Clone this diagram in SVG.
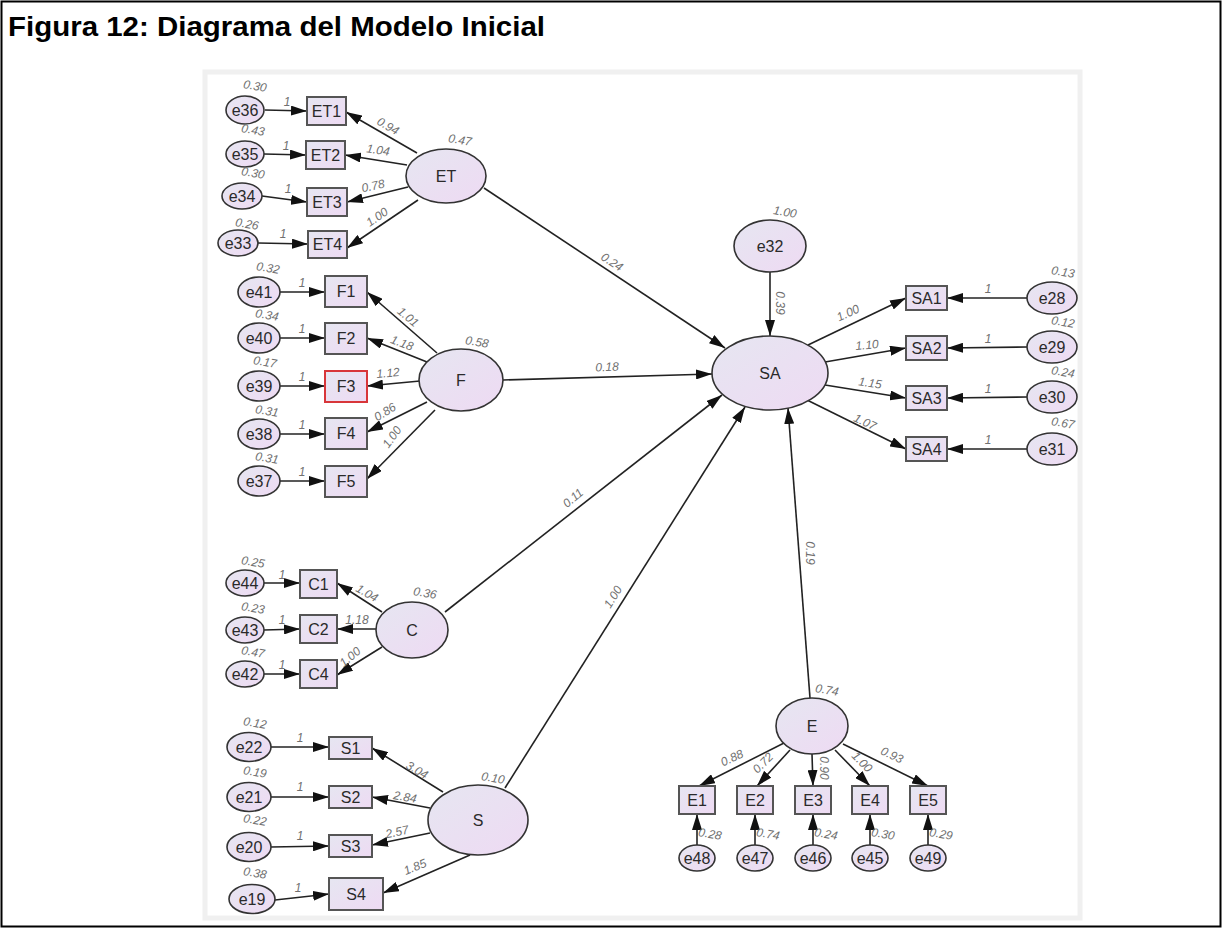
<svg xmlns="http://www.w3.org/2000/svg" width="1222" height="928" viewBox="0 0 1222 928">
<defs>
<linearGradient id="g" x1="0" y1="0" x2="1" y2="1">
<stop offset="0" stop-color="#e6e6f1"/>
<stop offset="1" stop-color="#eedaf3"/>
</linearGradient>
<marker id="ah" viewBox="0 0 16 10" refX="16" refY="5" markerWidth="16" markerHeight="10" markerUnits="userSpaceOnUse" orient="auto">
<path d="M0,0 L16,5 L0,10 z" fill="#111"/>
</marker>
<style>
.el{fill:url(#g);stroke:#333;stroke-width:1.6}
.bx{fill:url(#g);stroke:#555;stroke-width:2}
.red{stroke:#d8363a}
.t{font-family:"Liberation Sans",Arial,sans-serif;font-size:16px;fill:#2a2a2a;text-anchor:middle;dominant-baseline:central}
.n{font-family:"Liberation Sans",Arial,sans-serif;font-size:12px;fill:#707070;font-style:italic;text-anchor:middle;dominant-baseline:central}
.c line{stroke:#222;stroke-width:1.6;marker-end:url(#ah)}
</style>
</defs>
<rect x="0" y="0" width="1222" height="928" fill="#fff"/>
<rect x="1.5" y="1.5" width="1219" height="925" fill="none" stroke="#000" stroke-width="2"/>
<text x="8" y="36" font-family="'Liberation Sans',Arial,sans-serif" font-weight="bold" font-size="27" fill="#000" textLength="537" lengthAdjust="spacingAndGlyphs">Figura 12: Diagrama del Modelo Inicial</text>
<rect x="205" y="72" width="875" height="846" fill="#fff" stroke="#f0f0f0" stroke-width="5"/>

<g id="connectors" class="c">
<line x1="265" y1="110" x2="307" y2="111"/>
<line x1="264" y1="154" x2="306" y2="155"/>
<line x1="262" y1="196" x2="307" y2="202"/>
<line x1="258" y1="243" x2="308" y2="244"/>
<line x1="417" y1="153" x2="346" y2="112"/>
<line x1="407" y1="165" x2="345" y2="155"/>
<line x1="408" y1="187" x2="347" y2="202"/>
<line x1="418" y1="200" x2="347" y2="248"/>
<line x1="280" y1="292" x2="325" y2="292"/>
<line x1="280" y1="338" x2="325" y2="338"/>
<line x1="280" y1="386" x2="325" y2="386"/>
<line x1="280" y1="434" x2="325" y2="434"/>
<line x1="280" y1="481" x2="325" y2="481"/>
<line x1="437" y1="353" x2="367" y2="292"/>
<line x1="427" y1="362" x2="367" y2="338"/>
<line x1="420" y1="381" x2="367" y2="386"/>
<line x1="427" y1="402" x2="367" y2="432"/>
<line x1="435" y1="410" x2="367" y2="479"/>
<line x1="264" y1="583" x2="300" y2="583"/>
<line x1="264" y1="630" x2="300" y2="629"/>
<line x1="264" y1="674" x2="300" y2="674"/>
<line x1="382" y1="612" x2="337" y2="583"/>
<line x1="376" y1="629" x2="337" y2="629"/>
<line x1="382" y1="647" x2="337" y2="675"/>
<line x1="271" y1="747" x2="329" y2="747"/>
<line x1="271" y1="797" x2="329" y2="797"/>
<line x1="271" y1="847" x2="329" y2="846"/>
<line x1="275" y1="900" x2="329" y2="894"/>
<line x1="443" y1="792" x2="372" y2="748"/>
<line x1="430" y1="808" x2="372" y2="797"/>
<line x1="430" y1="833" x2="372" y2="845"/>
<line x1="470" y1="855" x2="383" y2="893"/>
<line x1="770" y1="272" x2="770" y2="336"/>
<line x1="1027" y1="298" x2="947" y2="298"/>
<line x1="1027" y1="347" x2="947" y2="348"/>
<line x1="1027" y1="397" x2="947" y2="398"/>
<line x1="1027" y1="449" x2="947" y2="449"/>
<line x1="808" y1="345" x2="906" y2="298"/>
<line x1="825" y1="362" x2="906" y2="348"/>
<line x1="825" y1="385" x2="906" y2="398"/>
<line x1="807" y1="400" x2="906" y2="449"/>
<line x1="697" y1="845" x2="697" y2="814"/>
<line x1="755" y1="845" x2="755" y2="814"/>
<line x1="813" y1="845" x2="813" y2="814"/>
<line x1="870" y1="845" x2="870" y2="814"/>
<line x1="928" y1="845" x2="928" y2="814"/>
<line x1="784" y1="743" x2="699" y2="786"/>
<line x1="790" y1="750" x2="757" y2="786"/>
<line x1="812" y1="754" x2="813" y2="786"/>
<line x1="835" y1="750" x2="870" y2="786"/>
<line x1="843" y1="744" x2="928" y2="786"/>
<line x1="484" y1="188" x2="725" y2="348"/>
<line x1="503" y1="380" x2="712" y2="374"/>
<line x1="445" y1="612" x2="722" y2="395"/>
<line x1="505" y1="788" x2="745" y2="407"/>
<line x1="810" y1="698" x2="788" y2="408"/>
</g>

<g id="connector-labels">
<text class="n" transform="translate(612,262) rotate(33)">0.24</text>
<text class="n" transform="translate(607,367) rotate(-2)">0.18</text>
<text class="n" transform="translate(573,498) rotate(-40)">0.11</text>
<text class="n" transform="translate(613,597) rotate(-58)">1.00</text>
<text class="n" transform="translate(810,553) rotate(90)">0.19</text>
<text class="n" transform="translate(780,303) rotate(90)">0.39</text>
</g>

<g id="e36"><ellipse class="el" cx="245" cy="110" rx="19" ry="14"/><text class="t" x="245" y="110">e36</text><text class="n" transform="translate(255,86) rotate(10)">0.30</text><text class="n" x="287" y="102">1</text></g>
<g id="e35"><ellipse class="el" cx="245" cy="154" rx="19" ry="13"/><text class="t" x="245" y="154">e35</text><text class="n" transform="translate(253,130) rotate(10)">0.43</text><text class="n" x="286" y="146">1</text></g>
<g id="e34"><ellipse class="el" cx="242" cy="196" rx="20" ry="13"/><text class="t" x="242" y="196">e34</text><text class="n" transform="translate(253,173) rotate(10)">0.30</text><text class="n" x="288" y="189">1</text></g>
<g id="e33"><ellipse class="el" cx="238" cy="243" rx="20" ry="13"/><text class="t" x="238" y="243">e33</text><text class="n" transform="translate(247,224) rotate(10)">0.26</text><text class="n" x="283" y="234">1</text></g>
<g id="ET1"><rect class="bx" x="307" y="97" width="39" height="28"/><text class="t" x="326.5" y="111">ET1</text><text class="n" transform="translate(388,126) rotate(30)">0.94</text></g>
<g id="ET2"><rect class="bx" x="306" y="141" width="39" height="28"/><text class="t" x="325.5" y="155">ET2</text><text class="n" transform="translate(378,150) rotate(8)">1.04</text></g>
<g id="ET3"><rect class="bx" x="307" y="188" width="40" height="28"/><text class="t" x="327" y="202">ET3</text><text class="n" transform="translate(373,186) rotate(-12)">0.78</text></g>
<g id="ET4"><rect class="bx" x="308" y="231" width="39" height="27"/><text class="t" x="327.5" y="244.5">ET4</text><text class="n" transform="translate(377,217) rotate(-35)">1.00</text></g>
<g id="ET"><ellipse class="el" cx="446" cy="176" rx="40" ry="27"/><text class="t" x="446" y="176">ET</text><text class="n" transform="translate(460,140) rotate(10)">0.47</text></g>

<g id="e41"><ellipse class="el" cx="259" cy="292" rx="21" ry="15"/><text class="t" x="259" y="292">e41</text><text class="n" transform="translate(268,268) rotate(10)">0.32</text><text class="n" x="302" y="283">1</text></g>
<g id="e40"><ellipse class="el" cx="259" cy="338" rx="21" ry="15"/><text class="t" x="259" y="338">e40</text><text class="n" transform="translate(267,315) rotate(10)">0.34</text><text class="n" x="302" y="329">1</text></g>
<g id="e39"><ellipse class="el" cx="259" cy="386" rx="21" ry="15"/><text class="t" x="259" y="386">e39</text><text class="n" transform="translate(265,362) rotate(10)">0.17</text><text class="n" x="302" y="377">1</text></g>
<g id="e38"><ellipse class="el" cx="259" cy="434" rx="21" ry="15"/><text class="t" x="259" y="434">e38</text><text class="n" transform="translate(267,411) rotate(10)">0.31</text><text class="n" x="302" y="425">1</text></g>
<g id="e37"><ellipse class="el" cx="259" cy="481" rx="21" ry="15"/><text class="t" x="259" y="481">e37</text><text class="n" transform="translate(267,458) rotate(10)">0.31</text><text class="n" x="302" y="472">1</text></g>
<g id="F1"><rect class="bx" x="325" y="276" width="42" height="31"/><text class="t" x="346" y="291.5">F1</text><text class="n" transform="translate(408,317) rotate(40)">1.01</text></g>
<g id="F2"><rect class="bx" x="325" y="323" width="42" height="31"/><text class="t" x="346" y="338.5">F2</text><text class="n" transform="translate(402,343) rotate(20)">1.18</text></g>
<g id="F3"><rect class="bx red" x="325" y="371" width="42" height="31"/><text class="t" x="346" y="386.5">F3</text><text class="n" transform="translate(388,373) rotate(-5)">1.12</text></g>
<g id="F4"><rect class="bx" x="325" y="418" width="42" height="31"/><text class="t" x="346" y="433.5">F4</text><text class="n" transform="translate(385,412) rotate(-32)">0.86</text></g>
<g id="F5"><rect class="bx" x="325" y="466" width="42" height="31"/><text class="t" x="346" y="481.5">F5</text><text class="n" transform="translate(392,437) rotate(-55)">1.00</text></g>
<g id="F"><ellipse class="el" cx="461" cy="380" rx="42" ry="31"/><text class="t" x="461" y="380">F</text><text class="n" transform="translate(477,342) rotate(10)">0.58</text></g>

<g id="e44"><ellipse class="el" cx="245" cy="583" rx="19" ry="13"/><text class="t" x="245" y="583">e44</text><text class="n" transform="translate(253,562) rotate(10)">0.25</text><text class="n" x="282" y="575">1</text></g>
<g id="e43"><ellipse class="el" cx="245" cy="630" rx="19" ry="13"/><text class="t" x="245" y="630">e43</text><text class="n" transform="translate(253,608) rotate(10)">0.23</text><text class="n" x="282" y="620">1</text></g>
<g id="e42"><ellipse class="el" cx="245" cy="674" rx="19" ry="13"/><text class="t" x="245" y="674">e42</text><text class="n" transform="translate(253,652) rotate(10)">0.47</text><text class="n" x="282" y="665">1</text></g>
<g id="C1"><rect class="bx" x="300" y="570" width="37" height="28"/><text class="t" x="318.5" y="584">C1</text><text class="n" transform="translate(367,593) rotate(30)">1.04</text></g>
<g id="C2"><rect class="bx" x="300" y="615" width="37" height="28"/><text class="t" x="318.5" y="629">C2</text><text class="n" x="357" y="620">1.18</text></g>
<g id="C4"><rect class="bx" x="300" y="660" width="37" height="28"/><text class="t" x="318.5" y="674">C4</text><text class="n" transform="translate(350,657) rotate(-40)">1.00</text></g>
<g id="C"><ellipse class="el" cx="412" cy="630" rx="36" ry="28"/><text class="t" x="412" y="630">C</text><text class="n" transform="translate(425,593) rotate(10)">0.36</text></g>

<g id="e22"><ellipse class="el" cx="249" cy="747" rx="22" ry="14.5"/><text class="t" x="249" y="747">e22</text><text class="n" transform="translate(255,723) rotate(10)">0.12</text><text class="n" x="300" y="738">1</text></g>
<g id="e21"><ellipse class="el" cx="249" cy="797" rx="22" ry="14.5"/><text class="t" x="249" y="797">e21</text><text class="n" transform="translate(255,772) rotate(10)">0.19</text><text class="n" x="300" y="787">1</text></g>
<g id="e20"><ellipse class="el" cx="249" cy="847" rx="22" ry="14.5"/><text class="t" x="249" y="847">e20</text><text class="n" transform="translate(255,820) rotate(10)">0.22</text><text class="n" x="300" y="836">1</text></g>
<g id="e19"><ellipse class="el" cx="252" cy="899" rx="23" ry="14.5"/><text class="t" x="252" y="899">e19</text><text class="n" transform="translate(255,873) rotate(10)">0.38</text><text class="n" x="298" y="888">1</text></g>
<g id="S1"><rect class="bx" x="329" y="737" width="43" height="22"/><text class="t" x="350.5" y="748">S1</text><text class="n" transform="translate(417,770) rotate(30)">3.04</text></g>
<g id="S2"><rect class="bx" x="329" y="786" width="43" height="22"/><text class="t" x="350.5" y="797">S2</text><text class="n" transform="translate(405,797) rotate(10)">2.84</text></g>
<g id="S3"><rect class="bx" x="329" y="835" width="43" height="22"/><text class="t" x="350.5" y="846">S3</text><text class="n" transform="translate(397,832) rotate(-12)">2.57</text></g>
<g id="S4"><rect class="bx" x="329" y="878" width="54" height="32"/><text class="t" x="356" y="894">S4</text><text class="n" transform="translate(415,867) rotate(-22)">1.85</text></g>
<g id="S"><ellipse class="el" cx="478" cy="820" rx="50" ry="35"/><text class="t" x="478" y="820">S</text><text class="n" transform="translate(493,778) rotate(10)">0.10</text></g>

<g id="SA"><ellipse class="el" cx="770" cy="373" rx="58" ry="37"/><text class="t" x="770" y="373">SA</text></g>
<g id="e32"><ellipse class="el" cx="770" cy="246" rx="36" ry="26"/><text class="t" x="770" y="246">e32</text><text class="n" transform="translate(785,212) rotate(10)">1.00</text></g>
<g id="SA1"><rect class="bx" x="906" y="286" width="41" height="24"/><text class="t" x="926.5" y="298">SA1</text><text class="n" transform="translate(848,313) rotate(-25)">1.00</text></g>
<g id="SA2"><rect class="bx" x="906" y="336" width="41" height="24"/><text class="t" x="926.5" y="348">SA2</text><text class="n" transform="translate(867,345) rotate(-5)">1.10</text></g>
<g id="SA3"><rect class="bx" x="906" y="386" width="41" height="24"/><text class="t" x="926.5" y="398">SA3</text><text class="n" transform="translate(870,383) rotate(8)">1.15</text></g>
<g id="SA4"><rect class="bx" x="906" y="437" width="41" height="24"/><text class="t" x="926.5" y="449">SA4</text><text class="n" transform="translate(865,422) rotate(25)">1.07</text></g>
<g id="e28"><ellipse class="el" cx="1052" cy="298" rx="25" ry="16"/><text class="t" x="1052" y="298">e28</text><text class="n" transform="translate(1063,272) rotate(10)">0.13</text><text class="n" x="988" y="289">1</text></g>
<g id="e29"><ellipse class="el" cx="1052" cy="347" rx="25" ry="16"/><text class="t" x="1052" y="347">e29</text><text class="n" transform="translate(1063,322) rotate(10)">0.12</text><text class="n" x="988" y="339">1</text></g>
<g id="e30"><ellipse class="el" cx="1052" cy="397" rx="25" ry="16"/><text class="t" x="1052" y="397">e30</text><text class="n" transform="translate(1063,372) rotate(10)">0.24</text><text class="n" x="988" y="389">1</text></g>
<g id="e31"><ellipse class="el" cx="1052" cy="449" rx="25" ry="16"/><text class="t" x="1052" y="449">e31</text><text class="n" transform="translate(1063,423) rotate(10)">0.67</text><text class="n" x="988" y="440">1</text></g>

<g id="E"><ellipse class="el" cx="812" cy="726" rx="36" ry="28"/><text class="t" x="812" y="726">E</text><text class="n" transform="translate(827,690) rotate(10)">0.74</text></g>
<g id="E1"><rect class="bx" x="679" y="786" width="36" height="28"/><text class="t" x="697" y="800">E1</text><text class="n" transform="translate(732,758) rotate(-25)">0.88</text></g>
<g id="E2"><rect class="bx" x="737" y="786" width="36" height="28"/><text class="t" x="755" y="800">E2</text><text class="n" transform="translate(763,763) rotate(-45)">0.72</text></g>
<g id="E3"><rect class="bx" x="795" y="786" width="36" height="28"/><text class="t" x="813" y="800">E3</text><text class="n" transform="translate(824,768) rotate(90)">0.90</text></g>
<g id="E4"><rect class="bx" x="852" y="786" width="36" height="28"/><text class="t" x="870" y="800">E4</text><text class="n" transform="translate(862,762) rotate(45)">1.00</text></g>
<g id="E5"><rect class="bx" x="910" y="786" width="36" height="28"/><text class="t" x="928" y="800">E5</text><text class="n" transform="translate(892,755) rotate(25)">0.93</text></g>
<g id="e48"><ellipse class="el" cx="697" cy="858" rx="18" ry="13"/><text class="t" x="697" y="858">e48</text><text class="n" transform="translate(710,834) rotate(10)">0.28</text></g>
<g id="e47"><ellipse class="el" cx="755" cy="858" rx="18" ry="13"/><text class="t" x="755" y="858">e47</text><text class="n" transform="translate(768,834) rotate(10)">0.74</text></g>
<g id="e46"><ellipse class="el" cx="813" cy="858" rx="18" ry="13"/><text class="t" x="813" y="858">e46</text><text class="n" transform="translate(826,834) rotate(10)">0.24</text></g>
<g id="e45"><ellipse class="el" cx="870" cy="858" rx="18" ry="13"/><text class="t" x="870" y="858">e45</text><text class="n" transform="translate(883,834) rotate(10)">0.30</text></g>
<g id="e49"><ellipse class="el" cx="928" cy="858" rx="18" ry="13"/><text class="t" x="928" y="858">e49</text><text class="n" transform="translate(941,834) rotate(10)">0.29</text></g>
</svg>
